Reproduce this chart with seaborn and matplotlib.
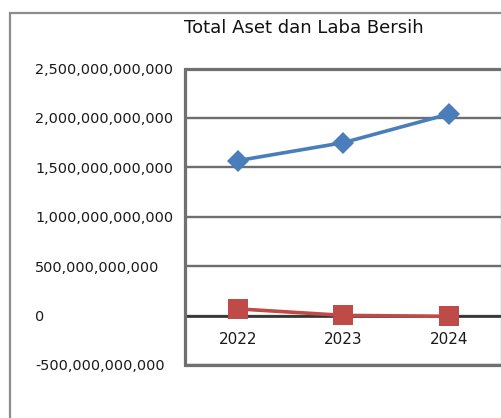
import pandas as pd
import seaborn as sns
import matplotlib.pyplot as plt
from matplotlib.patches import Rectangle
from matplotlib.ticker import FuncFormatter

tahun = ['2022', '2023', '2024']
total_aset = [1568000000000, 1750000000000, 2040000000000]
laba_bersih = [68000000000, 2000000000, -8000000000]
y_ticks = [-500000000000, 0, 500000000000, 1000000000000,
           1500000000000, 2000000000000, 2500000000000]

sns.set_theme(style='white')
plt.rcParams['font.family'] = ['DejaVu Sans']

df_aset = pd.DataFrame({'Tahun': tahun, 'Nilai': total_aset})
df_laba = pd.DataFrame({'Tahun': tahun, 'Nilai': laba_bersih})

fig = plt.figure(figsize=(5.01, 4.18), dpi=100)
fig.patch.set_facecolor('white')

# outer chart frame (cut off on right/bottom like the screenshot)
fig.add_artist(Rectangle((10 / 501, -0.1), 1.2, 1.1 - 13 / 418,
                         transform=fig.transFigure, fill=False,
                         edgecolor='#8c8c8c', linewidth=1.6))

ax = fig.add_axes([185 / 501, 1 - 365 / 418, (502 - 185) / 501, (365 - 68.5) / 418])

sns.lineplot(data=df_aset, x='Tahun', y='Nilai', ax=ax, color='#4a7ebb',
             linewidth=2.6, marker='D', markersize=11, markeredgewidth=0,
             sort=False, zorder=4)
sns.lineplot(data=df_laba, x='Tahun', y='Nilai', ax=ax, color='#be4b48',
             linewidth=2.6, marker='s', markersize=14, markeredgewidth=0,
             sort=False, zorder=5)

ax.set_xlim(-0.5, 2.5)
ax.set_ylim(-500000000000, 2500000000000)
ax.set_yticks(y_ticks)
ax.yaxis.set_major_formatter(FuncFormatter(lambda v, p: f'{v:,.0f}'))
ax.grid(axis='y', color='#6e6e6e', linewidth=1.7)
ax.set_axisbelow(True)

for s in ['top', 'right', 'left']:
    ax.spines[s].set_visible(False)
ax.spines['bottom'].set_position(('data', 0))
ax.spines['bottom'].set_color('#333333')
ax.spines['bottom'].set_linewidth(1.9)

ax.add_patch(Rectangle((0, 0), 1, 1, transform=ax.transAxes, fill=False,
                       edgecolor='#707070', linewidth=2.3, clip_on=False, zorder=3))

ax.tick_params(axis='y', length=0, pad=108, labelsize=10.4, labelcolor='#1a1a1a')
for lab in ax.get_yticklabels():
    lab.set_horizontalalignment('left')
ax.tick_params(axis='x', length=0, pad=12, labelsize=11, labelcolor='#1a1a1a')

ax.set_xlabel('')
ax.set_ylabel('')

fig.text(304 / 501, 1 - 28 / 418, 'Total Aset dan Laba Bersih', ha='center',
         va='center', fontsize=13, color='#111111')

fig.savefig('out.png', dpi=100)
